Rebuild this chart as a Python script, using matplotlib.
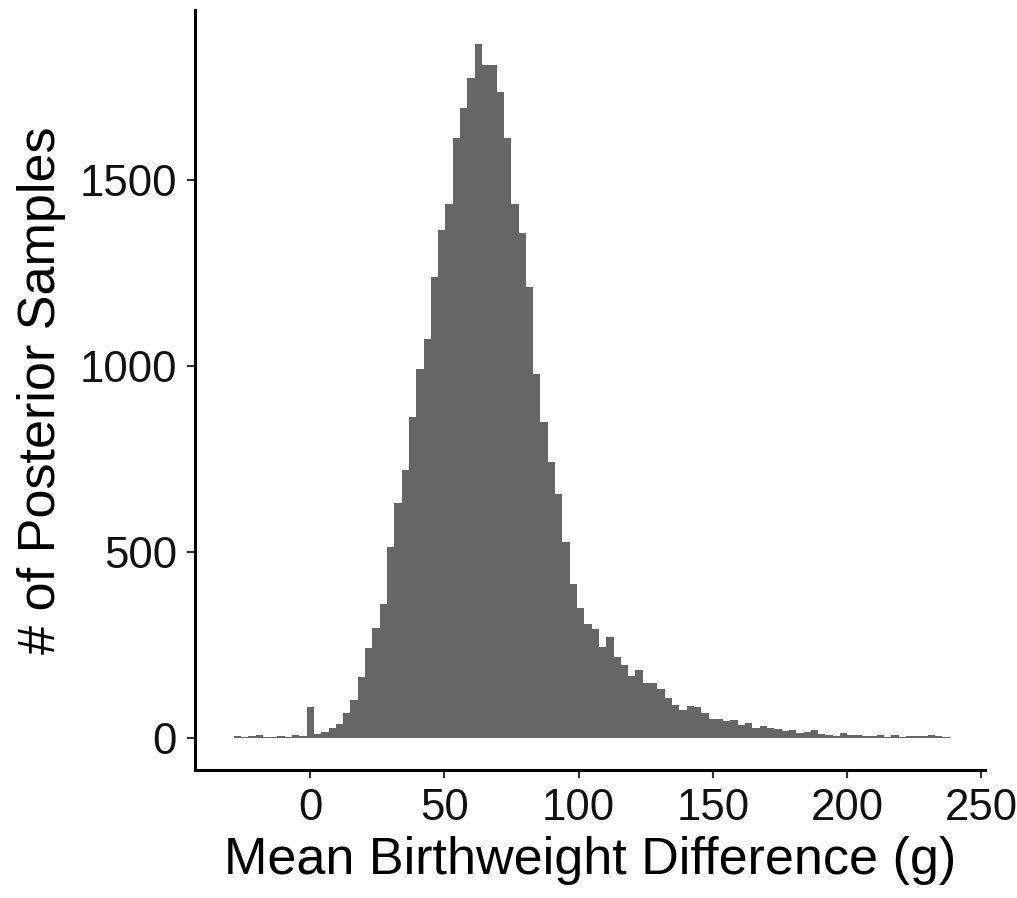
import matplotlib
matplotlib.use("Agg")
import matplotlib.pyplot as plt
import numpy as np

# histogram of posterior samples, bins centred on multiples of bin_width
bin_width = 2.724
first_bin = -10   # index of leftmost bin (bin 0 is centred on 0)
counts = [
    4, 1, 3, 7, 1, 2, 5, 2, 6, 3,
    81, 10, 15, 25, 36, 65, 101, 162, 240, 295,
    360, 513, 632, 720, 863, 992, 1072, 1240, 1366, 1437,
    1614, 1696, 1776, 1868, 1810, 1811, 1738, 1614, 1437, 1359,
    1214, 980, 849, 741, 655, 527, 413, 350, 306, 291,
    245, 270, 216, 194, 167, 181, 148, 148, 131, 106,
    88, 74, 85, 81, 65, 49, 49, 45, 46, 35,
    38, 27, 30, 25, 22, 18, 20, 11, 14, 21,
    10, 8, 5, 11, 7, 7, 4, 4, 7, 2,
    6, 1, 4, 3, 3, 6, 4, 1,
]
x_ticks = [0, 50, 100, 150, 200, 250]
y_ticks = [0, 500, 1000, 1500]

plt.rcParams['font.family'] = ['Liberation Sans', 'DejaVu Sans']

centers = bin_width * np.arange(first_bin, first_bin + len(counts))

fig = plt.figure(figsize=(10.17, 8.98), dpi=100)
ax = fig.add_axes([0.1917, 0.1425, 0.9685 - 0.1917, 0.9889 - 0.1425])

ax.bar(centers, counts, width=bin_width, color='#666666', linewidth=0)

ax.set_xlim(-43.0, 251.5)
ax.set_ylim(-87.5, 1959)
ax.set_xticks(x_ticks)
ax.set_yticks(y_ticks)

for side in ['top', 'right']:
    ax.spines[side].set_visible(False)
for side in ['left', 'bottom']:
    ax.spines[side].set_linewidth(2.2)
    ax.spines[side].set_color('black')

ax.tick_params(axis='both', length=6, width=1.5, color='#333333',
               labelsize=31.5, labelcolor='#111111', pad=7)

ax.set_xlabel("Mean Birthweight Difference (g)", fontsize=37.5, labelpad=5)
ax.set_ylabel("# of Posterior Samples", fontsize=37.5, labelpad=10)

fig.savefig("out.png", dpi=100)
